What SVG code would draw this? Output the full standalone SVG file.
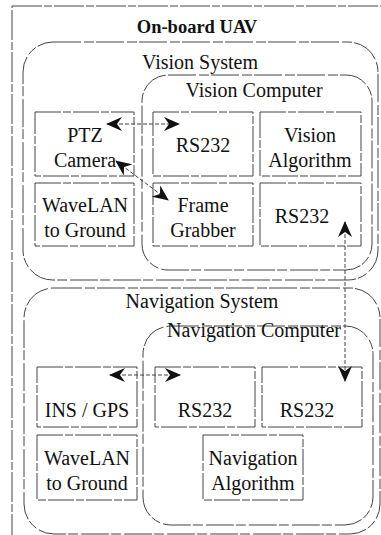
<svg xmlns="http://www.w3.org/2000/svg" width="381" height="535" viewBox="0 0 381 535">
<defs>
<marker id="ah" viewBox="0 0 16 14" refX="15" refY="7" markerWidth="16" markerHeight="14" markerUnits="userSpaceOnUse" orient="auto-start-reverse">
<path d="M0,0 L16,7 L0,14 L5,7 z" fill="#111"/>
</marker>
</defs>
<style>
.frame{fill:none;stroke:#444;stroke-width:1;stroke-dasharray:30 2 8 2}
.grp{fill:none;stroke:#444;stroke-width:1;stroke-dasharray:28 3 10 2}
.box{fill:#fff;stroke:#444;stroke-width:1;stroke-dasharray:26 2 8 2}
.lbl{font-size:20px;fill:#111;text-anchor:middle}
.ttl{font-size:18.5px;font-weight:bold;fill:#111;text-anchor:middle}
.con{fill:none;stroke:#444;stroke-width:1;stroke-dasharray:4 2}
</style>
<rect width="381" height="535" fill="#fff"/>
<g id="uav">
<rect class="frame" x="12" y="6" width="380" height="540"/>
<text class="ttl" style="font-family:'Liberation Serif',serif" x="197" y="33">On-board UAV</text>
</g>
<g id="vision-system">
<rect class="grp" x="23" y="42" width="355" height="238" rx="30" ry="30"/>
<text class="lbl" style="font-family:'Liberation Serif',serif" x="200" y="69">Vision System</text>
</g>
<g id="vision-computer">
<rect class="grp" x="142" y="75" width="230" height="195" rx="26" ry="26"/>
<text class="lbl" style="font-family:'Liberation Serif',serif" x="254" y="97">Vision Computer</text>
</g>
<g id="ptz-camera">
<rect class="box" x="35" y="112" width="99" height="64"/>
<text class="lbl" style="font-family:'Liberation Serif',serif" x="85" y="142">PTZ</text>
<text class="lbl" style="font-family:'Liberation Serif',serif" x="85" y="167">Camera</text>
</g>
<g id="vision-rs232-a">
<rect class="box" x="153" y="112" width="100" height="64"/>
<text class="lbl" style="font-family:'Liberation Serif',serif" x="203" y="152">RS232</text>
</g>
<g id="vision-algorithm">
<rect class="box" x="260" y="112" width="101" height="64"/>
<text class="lbl" style="font-family:'Liberation Serif',serif" x="310" y="142">Vision</text>
<text class="lbl" style="font-family:'Liberation Serif',serif" x="310" y="167">Algorithm</text>
</g>
<g id="vision-wavelan">
<rect class="box" x="35" y="183" width="99" height="63"/>
<text class="lbl" style="font-family:'Liberation Serif',serif" x="85" y="212">WaveLAN</text>
<text class="lbl" style="font-family:'Liberation Serif',serif" x="85" y="237">to Ground</text>
</g>
<g id="frame-grabber">
<rect class="box" x="153" y="183" width="100" height="63"/>
<text class="lbl" style="font-family:'Liberation Serif',serif" x="203" y="212">Frame</text>
<text class="lbl" style="font-family:'Liberation Serif',serif" x="203" y="237">Grabber</text>
</g>
<g id="vision-rs232-b">
<rect class="box" x="260" y="183" width="101" height="63"/>
<text class="lbl" style="font-family:'Liberation Serif',serif" x="302" y="223">RS232</text>
</g>
<g id="navigation-system">
<rect class="grp" x="24" y="288" width="356" height="246" rx="30" ry="30"/>
<text class="lbl" style="font-family:'Liberation Serif',serif" x="202" y="308">Navigation System</text>
</g>
<g id="navigation-computer">
<rect class="grp" x="143" y="326" width="230" height="199" rx="28" ry="28"/>
<text class="lbl" style="font-family:'Liberation Serif',serif" x="254" y="337">Navigation Computer</text>
</g>
<g id="ins-gps">
<rect class="box" x="37" y="367" width="100" height="60"/>
<text class="lbl" style="font-family:'Liberation Serif',serif" x="87" y="417">INS / GPS</text>
</g>
<g id="nav-rs232-a">
<rect class="box" x="155" y="367" width="100" height="60"/>
<text class="lbl" style="font-family:'Liberation Serif',serif" x="205" y="417">RS232</text>
</g>
<g id="nav-rs232-b">
<rect class="box" x="262" y="367" width="100" height="60"/>
<text class="lbl" style="font-family:'Liberation Serif',serif" x="307" y="417">RS232</text>
</g>
<g id="nav-wavelan">
<rect class="box" x="37" y="435" width="100" height="65"/>
<text class="lbl" style="font-family:'Liberation Serif',serif" x="87" y="465">WaveLAN</text>
<text class="lbl" style="font-family:'Liberation Serif',serif" x="87" y="490">to Ground</text>
</g>
<g id="navigation-algorithm">
<rect class="box" x="203" y="435" width="100" height="65"/>
<text class="lbl" style="font-family:'Liberation Serif',serif" x="253" y="465">Navigation</text>
<text class="lbl" style="font-family:'Liberation Serif',serif" x="253" y="490">Algorithm</text>
</g>
<g id="connectors">
<line class="con" x1="107" y1="124" x2="179" y2="124" marker-start="url(#ah)" marker-end="url(#ah)"/>
<line class="con" x1="116" y1="161" x2="168" y2="200" marker-start="url(#ah)" marker-end="url(#ah)"/>
<line class="con" x1="345" y1="222" x2="345" y2="381" marker-start="url(#ah)" marker-end="url(#ah)"/>
<line class="con" x1="110" y1="375" x2="180" y2="375" marker-start="url(#ah)" marker-end="url(#ah)"/>
</g>
</svg>
